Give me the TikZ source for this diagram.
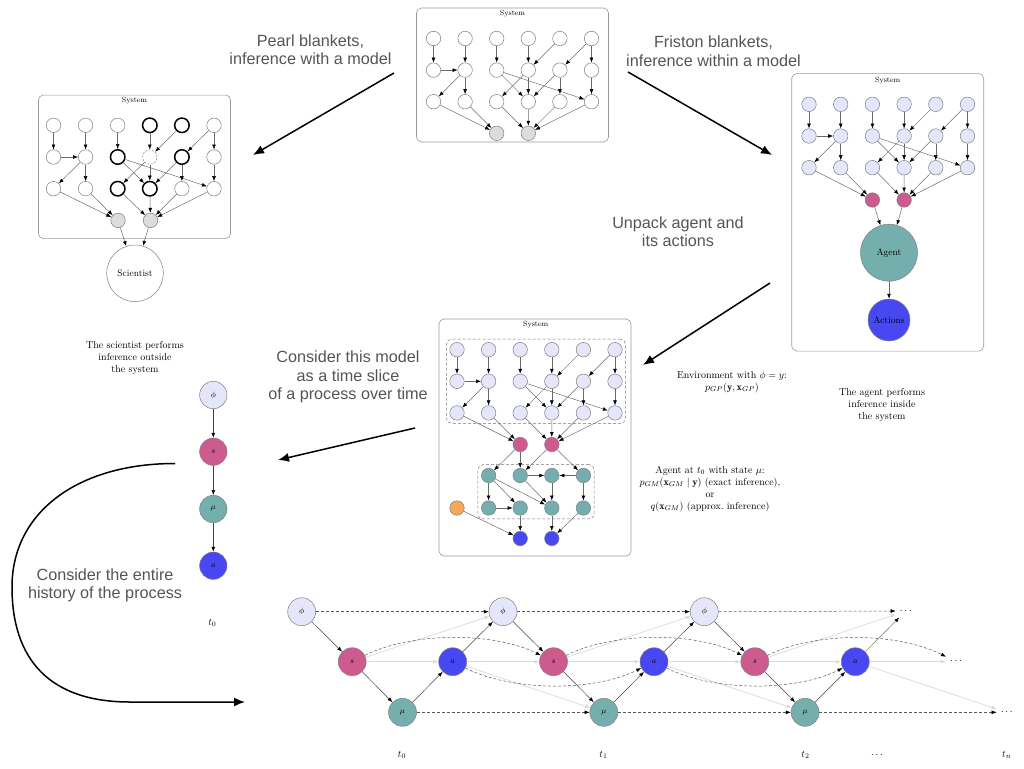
\documentclass[tikz,border=0pt]{standalone}
\usepackage{fontspec}
\usetikzlibrary{arrows.meta,fit}
\newfontfamily\labelsans{Liberation Sans}

\definecolor{lav}{HTML}{E6E6FA}
\definecolor{mag}{HTML}{CD5B8D}
\definecolor{tealc}{HTML}{75AFAD}
\definecolor{blu}{HTML}{4848F2}
\definecolor{ora}{HTML}{F4A85C}
\definecolor{sink}{HTML}{DCDCDC}
\definecolor{rim}{HTML}{7F7F7F}
\definecolor{capgray}{HTML}{555555}
\definecolor{linkgray}{HTML}{6A6A6A}

% 3x6 lattice of latent nodes: prefix, x0, y0, spacing, node style
\newcommand\latnodes[5]{%
  \foreach \row in {1,2,3}{%
    \foreach \col in {1,...,6}{%
      \node[#5] (#1\row\col) at ({#2+(\col-1)*#4},{#3+(\row-1)*#4}) {};
    }%
  }%
}
% directed links inside the lattice
\newcommand\latlinks[1]{%
  \foreach \a/\b in {11/21,12/22,13/23,14/24,15/24,16/25,16/26,21/22,
                     22/31,22/32,23/34,23/36,24/33,24/34,25/34,25/35,26/36}{%
    \draw[link] (#1\a) -- (#1\b);
  }%
}
% links from the bottom lattice row to the two blanket nodes
\newcommand\blanketlinks[1]{%
  \foreach \a in {31,32}{\draw[link] (#1\a) -- (#1g1);}%
  \foreach \a in {33,34,35,36}{\draw[link] (#1\a) -- (#1g2);}%
}

\begin{document}
\begin{tikzpicture}[x=1pt,y=-1pt,
  sysbox/.style={draw=black!40, line width=0.6pt, rounded corners=5pt, minimum width=192pt},
  systitle/.style={font=\fontsize{7.5}{9}\selectfont},
  lat/.style={circle, draw=rim, line width=0.5pt, minimum size=14.5pt, inner sep=0pt},
  plain/.style={lat, fill=white},
  lavnode/.style={lat, fill=lav},
  sinknode/.style={lat, fill=sink},
  magnode/.style={lat, fill=mag},
  tealnode/.style={lat, fill=tealc},
  bluenode/.style={lat, fill=blu},
  oranode/.style={lat, fill=ora},
  boldring/.style={draw=black, line width=1.5pt},
  dashring/.style={draw=rim, dash pattern=on 2pt off 1.5pt},
  link/.style={draw=linkgray, line width=0.5pt, -{Latex[length=5pt,width=3.8pt,color=black]}},
  bignode/.style={circle, draw=rim, line width=0.5pt, inner sep=0pt, font=\fontsize{9.5}{11}\selectfont},
  tnode/.style={circle, draw=rim, line width=0.5pt, minimum size=28pt, inner sep=0pt, font=\fontsize{8.5}{10}\selectfont},
  tlink/.style={draw=black!75, line width=0.5pt, -{Latex[length=5pt,width=3.8pt,color=black]}},
  tlinkgray/.style={draw=black!45, line width=0.6pt, -{Latex[length=5pt,width=3.8pt,color=black]}},
  ghost/.style={draw=black!15, line width=0.7pt, -{Latex[length=5pt,width=3.8pt]}},
  dlink/.style={draw=black!65, line width=0.5pt, dash pattern=on 3pt off 2pt, -{Latex[length=5pt,width=3.8pt,color=black]}},
  caption/.style={font=\labelsans\fontsize{16.2}{18.5}\selectfont, text=capgray, align=center},
  note/.style={font=\fontsize{10}{12}\selectfont, align=center},
  bigarrow/.style={line width=1.5pt, -{Latex[length=11pt,width=9pt]}},
  groupbox/.style={draw=black!55, dash pattern=on 3pt off 2pt, rounded corners=5pt, line width=0.5pt},
  dots/.style={inner sep=4pt, font=\fontsize{10}{12}\selectfont}
]
\useasboundingbox (0,0) rectangle (1024,768);

% ---------------- the system (top) ----------------
\node[sysbox, minimum height=134pt] (topbox) at (512.5,75) {};
\node[systitle] (toptitle) at (512.5,14) {System};
\latnodes{T}{433.5}{38.5}{31.6}{plain}
\node[sinknode] (Tg1) at (496.7,133.3) {};
\node[sinknode] (Tg2) at (528.3,133.3) {};
\latlinks{T}
\blanketlinks{T}

% ---------------- Pearl view (left) ----------------
\node[sysbox, minimum height=143.5pt] (leftbox) at (134.5,166.8) {};
\node[systitle] (lefttitle) at (134.5,101) {System};
\foreach \row/\col in {1/1,1/2,1/3,1/6,2/1,2/2,2/6,3/1,3/2,3/5,3/6}{
  \node[plain] (L\row\col) at ({53.5+(\col-1)*32.1},{125.3+(\row-1)*31.7}) {};
}
\foreach \row/\col in {1/4,1/5,2/3,2/5,3/3,3/4}{
  \node[plain, boldring] (L\row\col) at ({53.5+(\col-1)*32.1},{125.3+(\row-1)*31.7}) {};
}
\node[plain, dashring] (L24) at ({53.5+3*32.1},{125.3+31.7}) {};
\node[sinknode] (Lg1) at (118,220.4) {};
\node[sinknode] (Lg2) at (150.5,220.4) {};
\latlinks{L}
\blanketlinks{L}
\node[bignode, fill=white, minimum size=56.6pt] (sci) at (135,273.3) {Scientist};
\draw[link] (Lg1) -- (sci);
\draw[link] (Lg2) -- (sci);

% ---------------- Friston view (right) ----------------
\node[sysbox, minimum height=277.5pt] (rightbox) at (887.7,212.3) {};
\node[systitle] (righttitle) at (887.7,80.7) {System};
\latnodes{R}{809}{104.3}{31.7}{lavnode}
\node[magnode] (Rg1) at (872.4,200) {};
\node[magnode] (Rg2) at (904.1,200) {};
\latlinks{R}
\blanketlinks{R}
\node[bignode, fill=tealc, minimum size=57pt] (agent) at (889,252.7) {Agent};
\node[bignode, fill=blu, minimum size=42pt] (actions) at (889,320) {Actions};
\draw[link] (Rg1) -- (agent);
\draw[link] (Rg2) -- (agent);
\draw[link] (agent) -- (actions);

% ---------------- unpacked agent (middle) ----------------
\node[sysbox, minimum height=237pt] (midbox) at (535,437.5) {};
\node[systitle] (midtitle) at (535.7,324.7) {System};
\latnodes{M}{457}{349.7}{31.6}{lavnode}
\node[magnode] (Mg1) at (520.2,444.5) {};
\node[magnode] (Mg2) at (551.8,444.5) {};
\latlinks{M}
\blanketlinks{M}
\foreach \col/\xx in {1/488.6,2/520.2,3/551.8,4/583.4}{
  \node[tealnode] (Ma\col) at (\xx,475.5) {};
  \node[tealnode] (Mb\col) at (\xx,508) {};
}
\node[oranode] (Mo) at (457,508) {};
\node[bluenode] (Mx1) at (520.2,538.5) {};
\node[bluenode] (Mx2) at (551.8,538.5) {};
\foreach \a/\b in {Mg1/Ma1,Mg1/Ma2,Mg2/Ma2,Mg2/Ma4,Ma2/Ma3,Ma4/Ma3,
                   Ma1/Mb1,Ma1/Mb2,Ma1/Mb3,Ma2/Mb3,Ma3/Mb3,Ma4/Mb4,Mb1/Mb2,
                   Mb2/Mx1,Mb3/Mx2,Mb4/Mx2,Mo/Mx1}{
  \draw[link] (\a) -- (\b);
}
\node[groupbox, inner sep=3pt, fit=(M11)(M36)] (envgroup) {};
\node[groupbox, inner sep=3.3pt, fit=(Ma1)(Mb4)] (agentgroup) {};

% ---------------- single time slice (left column) ----------------
\node[tnode, fill=lav, minimum size=27.4pt] (cphi) at (213.3,395) {$\phi$};
\node[tnode, fill=mag, minimum size=27.4pt] (cs) at (213.3,451.7) {$s$};
\node[tnode, fill=tealc, minimum size=27.4pt] (cmu) at (213.3,509) {$\mu$};
\node[tnode, fill=blu, minimum size=27.4pt] (ca) at (213.3,565.7) {$a$};
\draw[tlink] (cphi) -- (cs);
\draw[tlink] (cs) -- (cmu);
\draw[tlink] (cmu) -- (ca);
\node (ct0) at (212.3,622.7) {$t_0$};

% ---------------- unrolled process (bottom) ----------------
\foreach \k in {0,1,2}{
  \pgfmathsetmacro\xx{301.7+201.3*\k}
  \node[tnode, fill=lav] (phi\k) at (\xx,611.7) {$\phi$};
  \node[tnode, fill=mag] (s\k) at (\xx+50.5,661.7) {$s$};
  \node[tnode, fill=tealc] (mu\k) at (\xx+100.8,712.3) {$\mu$};
  \node[tnode, fill=blu] (a\k) at (\xx+151,661.7) {$a$};
}
\node[dots] (dtop) at (905.7,611) {$\cdots$};
\node[dots] (dmid) at (956,661.7) {$\cdots$};
\node[dots] (dbot) at (1006.7,712.3) {$\cdots$};

\foreach \k in {0,1,2}{
  \draw[ghost] (s\k) -- (a\k);
  \draw[tlink] (phi\k) -- (s\k);
  \draw[tlink] (s\k) -- (mu\k);
  \draw[tlink] (mu\k) -- (a\k);
}
\foreach \k/\n in {0/1,1/2}{
  \draw[ghost] (s\k) -- (phi\n);
  \draw[ghost] (a\k) -- (s\n);
  \draw[ghost] (a\k) -- (mu\n);
  \draw[tlink] (a\k) -- (phi\n);
  \draw[dlink] (phi\k) -- (phi\n);
  \draw[dlink] (mu\k) -- (mu\n);
  \draw[dlink] (s\k) .. controls +(60,-30) and +(-60,-30) .. (s\n);
  \draw[dlink] (a\k) .. controls +(60,30) and +(-60,30) .. (a\n);
}
\draw[ghost] (s2) -- (dtop);
\draw[ghost] (a2) -- (dmid);
\draw[ghost] (a2) -- (dbot);
\draw[tlinkgray] (a2) -- (dtop);
\draw[dlink] (phi2) -- (dtop);
\draw[dlink] (mu2) -- (dbot);
\draw[dlink] (s2) .. controls +(60,-30) and +(-60,-30) .. (dmid);

\node (tl0) at (402,755) {$t_0$};
\node (tl1) at (603.5,755) {$t_1$};
\node (tl2) at (805.5,755) {$t_2$};
\node (tldots) at (877,755) {$\cdots$};
\node (tln) at (1006.7,755) {$t_n$};

% ---------------- captions ----------------
\node[caption] (pearl) at (310.5,49.5) {Pearl blankets,\\inference with a model};
\node[caption] (friston) at (713.5,51) {Friston blankets,\\inference within a model};
\node[caption] (unpack) at (678,231.5) {Unpack agent and\\its actions};
\node[caption] (slice) at (348,377) {Consider this model\\as a time slice\\of a process over time};
\node[caption] (history) at (105,585.5) {Consider the entire\\history of the process};

\node[note] (scinote) at (135,358) {The scientist performs\\inference outside\\the system};
\node[note] (agnote) at (882,405) {The agent performs\\inference inside\\the system};
\node[note] (envnote) at (732,382) {Environment with $\phi = y$:\\$p_{GP}(\mathbf{y},\mathbf{x}_{GP})$};
\node[note] (agentnote) at (710,489) {Agent at $t_0$ with state $\mu$:\\$p_{GM}(\mathbf{x}_{GM}\mid\mathbf{y})$ (exact inference),\\or\\$q(\mathbf{x}_{GM})$ (approx.\ inference)};

% ---------------- transition arrows ----------------
\coordinate (pa1) at (394,73);   \coordinate (pa2) at (253,155);
\coordinate (fa1) at (628,72);   \coordinate (fa2) at (772,155);
\coordinate (ua1) at (770,283);  \coordinate (ua2) at (643,365);
\coordinate (sa1) at (415,428);  \coordinate (sa2) at (278,460);
\coordinate (ha1) at (175,463.5); \coordinate (ha2) at (245,702);
\draw[bigarrow] (pa1) -- (pa2);
\draw[bigarrow] (fa1) -- (fa2);
\draw[bigarrow] (ua1) -- (ua2);
\draw[bigarrow] (sa1) -- (sa2);
\draw[bigarrow] (ha1) .. controls (78,463.5) and (12,512) .. (12,587)
                      .. controls (12,660) and (50,702) .. (130,702) -- (ha2);
\end{tikzpicture}
\end{document}
